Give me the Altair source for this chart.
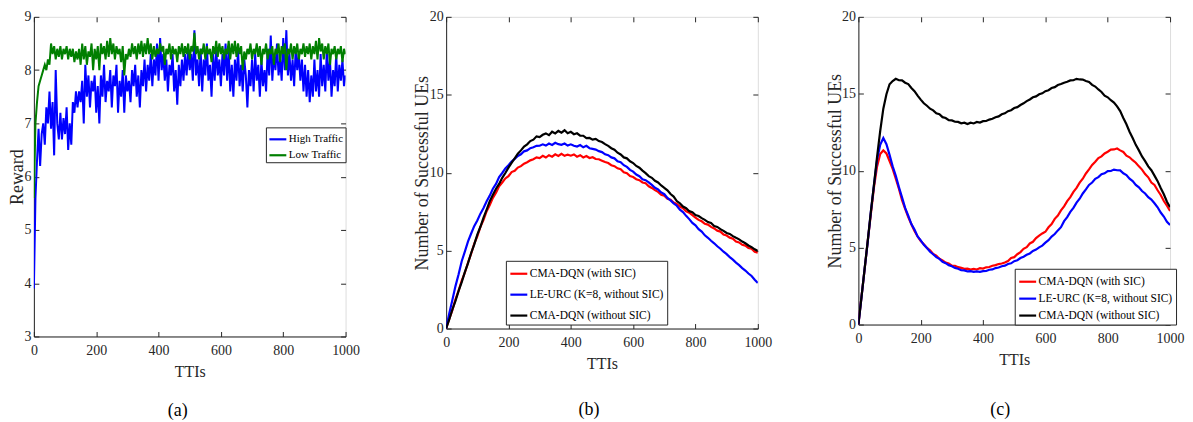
import altair as alt
import pandas as pd

FONT = "Liberation Serif"
AX = "#262626"

# ---------------- Panel (a): reward vs TTIs (step 5) ----------------
TTI_A = list(range(0, 1001, 5))
HIGH_TRAFFIC = [
    3.9, 5.6, 6.3, 6.9, 6.2, 6.8, 7.0, 6.6, 7.3, 7.0,
    7.6, 6.9, 7.4, 6.4, 8.0, 7.0, 6.7, 7.2, 6.7, 7.1,
    6.8, 7.3, 6.5, 7.0, 6.6, 7.4, 7.2, 7.6, 7.3, 7.6,
    7.4, 7.8, 7.0, 8.1, 7.5, 7.9, 7.3, 7.8, 7.6, 7.9,
    7.2, 7.7, 7.0, 7.9, 7.5, 8.1, 7.4, 7.8, 7.6, 8.0,
    7.3, 7.9, 7.7, 8.1, 7.2, 7.8, 7.5, 8.0, 7.2, 7.9,
    7.6, 7.8, 7.4, 8.0, 7.7, 8.1, 7.5, 7.9, 7.3, 8.0,
    7.7, 8.2, 7.6, 8.1, 7.8, 8.3, 7.7, 8.2, 7.9, 8.5,
    7.8, 8.6, 8.0, 8.3, 7.8, 8.2, 7.6, 8.1, 7.9, 8.3,
    7.6, 8.0, 7.35, 8.1, 7.7, 8.2, 7.8, 8.3, 7.9, 8.4,
    8.0, 8.3, 7.8, 8.75, 7.9, 8.2, 7.7, 8.4, 7.6, 8.2,
    7.9, 8.5, 7.8, 8.1, 7.5, 8.3, 7.8, 8.4, 7.9, 8.2,
    7.7, 8.3, 7.9, 8.5, 7.8, 8.4, 7.6, 8.1, 7.5, 8.2,
    7.8, 8.4, 7.7, 8.1, 7.6, 8.2, 7.9, 7.3, 8.0, 7.7,
    8.2, 7.6, 8.3, 7.8, 8.1, 7.5, 8.2, 7.7, 8.0, 7.6,
    8.4, 7.9, 8.65, 7.8, 8.3, 8.0, 8.5, 7.9, 8.2, 7.8,
    8.6, 8.0, 8.75, 7.9, 8.3, 7.8, 8.2, 7.7, 8.4, 8.0,
    8.3, 7.8, 8.2, 7.6, 8.1, 7.5, 8.0, 7.4, 7.9, 7.5,
    8.2, 7.6, 8.0, 7.5, 8.3, 7.7, 8.1, 7.6, 8.4, 7.8,
    8.2, 7.5, 8.0, 7.7, 8.3, 7.6, 8.1, 7.8, 8.2, 7.7,
    7.9,
]
LOW_TRAFFIC = [
    5.6, 7.0, 7.4, 7.7, 7.8, 7.9, 8.0, 8.1, 8.0, 8.2,
    8.1, 8.5, 8.3, 8.45, 8.2, 8.4, 8.25, 8.45, 8.2, 8.4,
    8.3, 8.45, 8.2, 8.4, 8.25, 8.4, 8.15, 8.35, 8.2, 8.4,
    8.1, 8.5, 8.2, 8.45, 8.1, 8.35, 8.25, 8.5, 8.0, 8.4,
    8.2, 8.45, 8.0, 8.5, 8.3, 8.45, 8.2, 8.55, 8.25, 8.6,
    8.3, 8.5, 8.2, 8.45, 8.3, 8.4, 8.15, 8.45, 7.9, 8.3,
    8.2, 8.4, 8.25, 8.5, 8.3, 8.45, 8.2, 8.5, 8.3, 8.55,
    8.25, 8.5, 8.3, 8.6, 8.3, 8.5, 8.2, 8.45, 8.25, 8.4,
    8.3, 8.5, 8.35, 8.45, 8.1, 8.4, 8.3, 8.5, 8.2, 8.45,
    8.3, 8.4, 8.15, 8.45, 8.3, 8.5, 8.25, 8.45, 8.3, 8.5,
    8.2, 8.45, 8.35, 8.7, 8.3, 8.45, 8.2, 8.4, 8.3, 8.5,
    8.2, 8.45, 8.3, 8.4, 8.15, 8.45, 8.3, 8.55, 8.25, 8.5,
    8.3, 8.45, 8.2, 8.4, 8.3, 8.55, 8.2, 8.5, 8.3, 8.55,
    8.25, 8.5, 8.3, 8.45, 8.0, 8.35, 8.2, 8.4, 8.3, 8.5,
    8.2, 8.4, 8.3, 8.5, 8.25, 8.45, 8.1, 8.4, 8.3, 8.5,
    8.2, 8.4, 8.3, 8.45, 8.1, 8.4, 8.3, 8.5, 8.15, 8.45,
    8.3, 8.5, 8.0, 8.4, 8.3, 8.5, 8.2, 8.45, 8.3, 8.5,
    8.2, 8.4, 8.3, 8.5, 8.25, 8.45, 8.3, 8.5, 8.2, 8.45,
    8.3, 8.55, 8.2, 8.6, 8.35, 8.5, 8.2, 8.45, 8.3, 8.5,
    8.1, 8.4, 8.3, 8.45, 8.2, 8.4, 8.3, 8.45, 8.15, 8.4,
    8.3,
]

# ---------------- Panels (b), (c): successful UEs (step 10) ----------------
TTI_BC = list(range(0, 1001, 10))
B_CMA_SIC = [
    0, 0.62, 1.18, 1.87, 2.43, 3.08, 3.58, 4.22, 4.78, 5.43,
    5.92, 6.52, 6.97, 7.53, 7.92, 8.38, 8.72, 9.13, 9.37, 9.63,
    9.78, 10.04, 10.12, 10.33, 10.42, 10.58, 10.67, 10.79, 10.86, 10.98,
    10.94, 11.08, 10.97, 11.12, 11.03, 11.18, 11.07, 11.21, 11.08, 11.16,
    11.09, 11.17, 11.03, 11.12, 10.98, 11.07, 10.94, 10.99, 10.88, 10.86,
    10.77, 10.68, 10.62, 10.48, 10.42, 10.28, 10.22, 10.03, 9.97, 9.78,
    9.72, 9.58, 9.52, 9.37, 9.32, 9.13, 9.02, 8.88, 8.77, 8.58,
    8.52, 8.33, 8.27, 8.08, 7.99, 7.83, 7.72, 7.52, 7.43, 7.27,
    7.12, 6.97, 6.88, 6.72, 6.67, 6.52, 6.42, 6.28, 6.22, 6.03,
    5.97, 5.83, 5.77, 5.58, 5.52, 5.37, 5.32, 5.17, 5.12, 4.93,
    4.87,
]
B_LEURC = [
    0, 0.97, 1.83, 2.72, 3.48, 4.32, 4.93, 5.57, 6.08, 6.57,
    6.93, 7.37, 7.73, 8.17, 8.53, 8.97, 9.28, 9.72, 9.98, 10.27,
    10.48, 10.72, 10.88, 11.07, 11.18, 11.37, 11.43, 11.57, 11.63, 11.72,
    11.73, 11.82, 11.74, 11.87, 11.78, 11.92, 11.83, 11.79, 11.87, 11.74,
    11.82, 11.73, 11.68, 11.77, 11.63, 11.72, 11.57, 11.53, 11.48, 11.38,
    11.32, 11.18, 11.12, 10.98, 10.92, 10.73, 10.67, 10.48, 10.37, 10.18,
    10.07, 9.88, 9.77, 9.58, 9.52, 9.38, 9.22, 9.03, 8.92, 8.73,
    8.62, 8.38, 8.22, 8.03, 7.88, 7.63, 7.47, 7.23, 7.02, 6.78,
    6.62, 6.38, 6.22, 5.98, 5.82, 5.63, 5.47, 5.28, 5.12, 4.93,
    4.77, 4.58, 4.42, 4.23, 4.07, 3.88, 3.72, 3.53, 3.37, 3.13,
    2.92,
]
B_CMA_NOSIC = [
    0, 0.58, 1.22, 1.78, 2.42, 2.98, 3.62, 4.18, 4.83, 5.38,
    6.02, 6.53, 7.12, 7.63, 8.17, 8.58, 8.97, 9.28, 9.67, 9.98,
    10.32, 10.63, 10.92, 11.22, 11.43, 11.68, 11.82, 12.03, 12.12, 12.33,
    12.28, 12.43, 12.52, 12.41, 12.63, 12.52, 12.68, 12.57, 12.72, 12.53,
    12.62, 12.47, 12.53, 12.38, 12.37, 12.22, 12.23, 12.12, 12.17, 12.03,
    11.97, 11.83, 11.72, 11.57, 11.47, 11.28, 11.17, 10.98, 10.92, 10.73,
    10.62, 10.43, 10.32, 10.13, 9.97, 9.78, 9.67, 9.48, 9.37, 9.18,
    9.03, 8.87, 8.63, 8.47, 8.18, 8.03, 7.83, 7.72, 7.53, 7.47,
    7.28, 7.22, 7.08, 6.97, 6.83, 6.77, 6.58, 6.52, 6.38, 6.27,
    6.13, 6.07, 5.93, 5.82, 5.72, 5.58, 5.47, 5.33, 5.22, 5.08,
    4.98,
]
C_CMA_SIC = [
    0, 1.82, 3.58, 5.42, 7.18, 8.92, 10.28, 11.08, 11.32, 11.12,
    10.63, 10.12, 9.48, 8.83, 8.08, 7.52, 6.98, 6.52, 6.08, 5.72,
    5.43, 5.22, 4.98, 4.82, 4.58, 4.47, 4.28, 4.17, 4.03, 3.97,
    3.83, 3.82, 3.73, 3.68, 3.62, 3.63, 3.57, 3.62, 3.58, 3.66,
    3.64, 3.72, 3.74, 3.82, 3.86, 3.93, 3.97, 4.03, 4.13, 4.32,
    4.38, 4.57, 4.71, 4.92, 5.03, 5.27, 5.38, 5.62, 5.78, 5.92,
    6.03, 6.32, 6.53, 6.87, 7.08, 7.42, 7.68, 8.02, 8.28, 8.62,
    8.88, 9.22, 9.48, 9.82, 10.08, 10.37, 10.58, 10.82, 10.93, 11.12,
    11.23, 11.37, 11.38, 11.44, 11.32, 11.22, 10.98, 10.87, 10.68, 10.52,
    10.28, 10.07, 9.78, 9.57, 9.23, 9.07, 8.73, 8.42, 8.03, 7.72,
    7.38,
]
C_LEURC = [
    0, 1.78, 3.62, 5.38, 7.32, 9.08, 10.72, 11.68, 12.12, 11.72,
    11.03, 10.28, 9.67, 8.93, 8.27, 7.58, 7.07, 6.53, 6.17, 5.73,
    5.47, 5.18, 4.97, 4.73, 4.57, 4.38, 4.27, 4.08, 3.99, 3.86,
    3.79, 3.68, 3.63, 3.53, 3.52, 3.45, 3.47, 3.42, 3.46, 3.43,
    3.47, 3.48, 3.56, 3.58, 3.67, 3.71, 3.79, 3.83, 3.94, 3.98,
    4.12, 4.18, 4.32, 4.41, 4.53, 4.62, 4.78, 4.87, 5.02, 5.13,
    5.32, 5.48, 5.72, 5.88, 6.12, 6.33, 6.72, 6.98, 7.32, 7.58,
    7.92, 8.18, 8.52, 8.78, 9.07, 9.23, 9.47, 9.58, 9.77, 9.83,
    9.97, 9.98, 10.07, 10.03, 10.02, 9.83, 9.72, 9.48, 9.32, 9.08,
    8.92, 8.68, 8.52, 8.28, 8.12, 7.88, 7.62, 7.28, 7.02, 6.68,
    6.47,
]
C_CMA_NOSIC = [
    0, 1.8, 3.62, 5.43, 7.32, 9.08, 10.92, 12.58, 14.03, 14.97,
    15.62, 15.83, 15.97, 15.88, 15.87, 15.72, 15.63, 15.38, 15.17, 14.88,
    14.62, 14.38, 14.22, 14.03, 13.92, 13.73, 13.67, 13.48, 13.42, 13.28,
    13.27, 13.18, 13.17, 13.08, 13.12, 13.03, 13.12, 13.07, 13.17, 13.13,
    13.22, 13.23, 13.32, 13.38, 13.47, 13.53, 13.67, 13.73, 13.87, 13.93,
    14.07, 14.13, 14.27, 14.38, 14.52, 14.63, 14.77, 14.83, 14.97, 15.03,
    15.17, 15.23, 15.37, 15.43, 15.57, 15.63, 15.72, 15.78, 15.87, 15.88,
    15.97, 15.93, 15.92, 15.83, 15.77, 15.58, 15.47, 15.28, 15.12, 14.88,
    14.77, 14.58, 14.43, 14.18, 13.87, 13.43, 13.02, 12.53, 12.12, 11.68,
    11.32, 10.93, 10.62, 10.28, 10.03, 9.68, 9.32, 8.88, 8.47, 7.98,
    7.62,
]

NAMES_A = ["High Traffic", "Low Traffic"]
COLORS_A = ["#0000ff", "#007f00"]
NAMES_BC = ["CMA-DQN (with SIC)", "LE-URC (K=8, without SIC)", "CMA-DQN (without SIC)"]
COLORS_BC = ["#ff0000", "#0000ff", "#000000"]
X_TICKS = [0, 200, 400, 600, 800, 1000]


def long_df(x, series, names):
    rows = []
    for k, (name, vals) in enumerate(zip(names, series)):
        for t, v in zip(x, vals):
            rows.append({"t": t, "v": v, "series": name, "k": k})
    return pd.DataFrame(rows)


df_a = long_df(TTI_A, [HIGH_TRAFFIC, LOW_TRAFFIC], NAMES_A)
df_b = long_df(TTI_BC, [B_CMA_SIC, B_LEURC, B_CMA_NOSIC], NAMES_BC)
df_c = long_df(TTI_BC, [C_CMA_SIC, C_LEURC, C_CMA_NOSIC], NAMES_BC)


def panel(df, names, colors, ydom, yticks, ytitle, height, leg, caption,
          ytitle_pad, cap_offset, cap_dx, lw):
    xs = alt.Scale(domain=[0, 1000], nice=False, zero=False)
    ys = alt.Scale(domain=ydom, nice=False, zero=False)
    lab = dict(labelFont=FONT, labelFontSize=14, labelColor=AX, grid=False,
               domainColor=AX, tickColor=AX, titleFont=FONT, labelFlush=False,
               titleFontWeight="normal", titleColor=AX, format="d")
    main = alt.Chart(df).mark_line(strokeWidth=lw, clip=True).encode(
        x=alt.X("t:Q", scale=xs,
                axis=alt.Axis(values=X_TICKS, title="TTIs", orient="bottom",
                              tickSize=0, labelPadding=7, titleFontSize=16,
                              titlePadding=6, **lab)),
        y=alt.Y("v:Q", scale=ys,
                axis=alt.Axis(values=yticks, title=ytitle, orient="left",
                              tickSize=0, labelPadding=3, titleFontSize=18,
                              titlePadding=ytitle_pad, **lab)),
        color=alt.Color("series:N",
                        scale=alt.Scale(domain=names, range=colors),
                        legend=alt.Legend(
                            title=None, orient="none",
                            legendX=leg["x"], legendY=leg["y"],
                            fillColor="white", strokeColor=AX,
                            padding=leg["pad"], cornerRadius=0,
                            labelFont=FONT, labelFontSize=leg["fs"],
                            labelColor="black", labelOffset=1,
                            symbolType="stroke", symbolStrokeWidth=2.2,
                            symbolSize=leg["sym"], rowPadding=leg["rp"],
                            labelLimit=400)),
        order=alt.Order("k:Q"),
    )
    tick_ax = dict(labels=False, domain=False, tickSize=5, tickColor=AX,
                   grid=False, title=None, offset=-5)
    inner1 = alt.Chart(df).mark_line(opacity=0).encode(
        x=alt.X("t:Q", scale=xs, axis=alt.Axis(values=X_TICKS, orient="bottom", **tick_ax)),
        y=alt.Y("v:Q", scale=ys, axis=alt.Axis(values=yticks, orient="left", **tick_ax)),
    )
    inner2 = alt.Chart(df).mark_line(opacity=0).encode(
        x=alt.X("t:Q", scale=xs, axis=alt.Axis(values=X_TICKS, orient="top", **tick_ax)),
        y=alt.Y("v:Q", scale=ys, axis=alt.Axis(values=yticks, orient="right", **tick_ax)),
    )
    return alt.layer(main, inner1, inner2).resolve_axis(
        x="independent", y="independent"
    ).properties(
        width=313, height=height,
        title=alt.TitleParams(caption, orient="bottom", font=FONT, fontSize=18,
                              fontWeight="normal", color="black",
                              offset=cap_offset, anchor="middle", dx=cap_dx),
    )


pa = panel(df_a, NAMES_A, COLORS_A, [3, 9], [3, 4, 5, 6, 7, 8, 9], "Reward", 321,
           dict(x=233, y=111, pad=2, fs=11, rp=1, sym=289), "(a)", -3, 23, -12, 2)
pb = panel(df_b, NAMES_BC, COLORS_BC, [0, 20], [0, 5, 10, 15, 20],
           "Number of Successful UEs", 313,
           dict(x=60, y=245, pad=3, fs=11.5, rp=5, sym=289), "(b)", -2, 30, -13, 2.2)
pc = panel(df_c, NAMES_BC, COLORS_BC, [0, 20], [0, 5, 10, 15, 20],
           "Number of Successful UEs", 309,
           dict(x=157, y=253, pad=3, fs=11.5, rp=1, sym=289), "(c)", -3, 34, -14, 2.2)

chart = alt.hconcat(pa, pb, pc, spacing=101, bounds="flush").resolve_scale(
    color="independent", x="independent", y="independent"
).resolve_legend(color="independent").properties(
    padding={"left": 0, "top": 0, "right": 0, "bottom": 0}
).configure_view(stroke=AX, strokeWidth=1).configure(background="white")

chart.save("out.html", embed_options={"renderer": "svg", "actions": False})
